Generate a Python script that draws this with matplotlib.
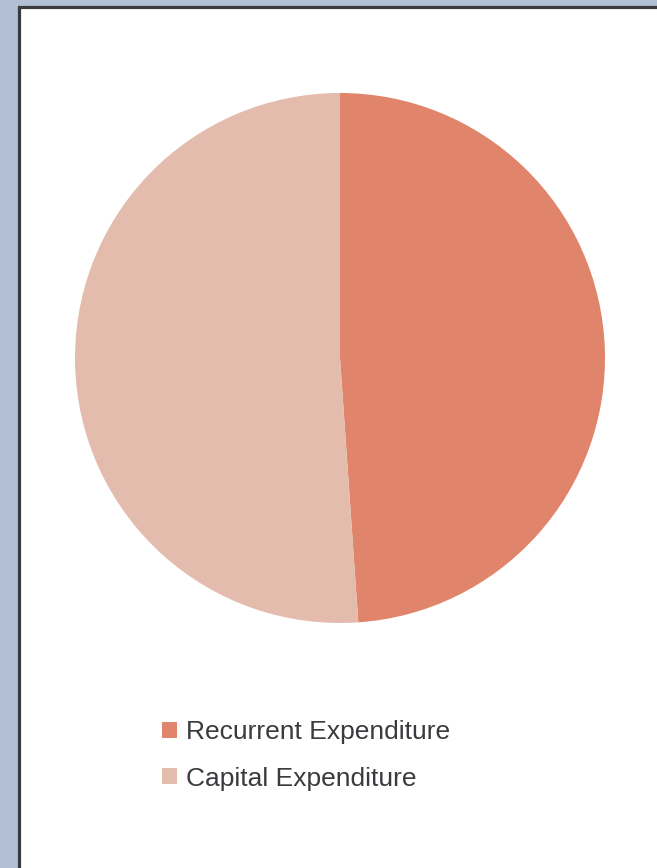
import matplotlib.pyplot as plt
from matplotlib.patches import Rectangle

labels = ["Recurrent Expenditure", "Capital Expenditure"]
values = [48.9, 51.1]
colors = ["#e0856b", "#e3bcae"]

W, H = 657, 868
fig = plt.figure(figsize=(W / 100, H / 100), dpi=100)
fig.patch.set_facecolor("#b3bfd4")

# white card with dark edge, running off the right and bottom
fig.patches.append(Rectangle((18.5 / W, -0.05), 1.1, 1 - 6.5 / H + 0.05,
                             transform=fig.transFigure, facecolor="white",
                             edgecolor="#3b3a3e", linewidth=2.3, zorder=-1))

ax = fig.add_axes([75 / W, (H - 623) / H, 530 / W, 530 / H])
ax.set_zorder(1)
wedges, _ = ax.pie(values, colors=colors, startangle=90, counterclock=False,
                   radius=1, wedgeprops=dict(linewidth=0))
ax.set_xlim(-1, 1)
ax.set_ylim(-1, 1)
ax.set_aspect("equal")
ax.axis("off")

leg = fig.legend(wedges, labels, loc="upper left",
                 bbox_to_anchor=(162 / W, 1 - 720 / H), frameon=False,
                 prop=dict(family=["Liberation Sans", "DejaVu Sans"], size=19),
                 labelcolor="#3b3a3e", handlelength=0.57,
                 handleheight=0.57, handletextpad=0.34, labelspacing=0.86,
                 borderpad=0, borderaxespad=0)
leg.set_zorder(2)

fig.savefig("out.png", dpi=100, facecolor=fig.get_facecolor())
